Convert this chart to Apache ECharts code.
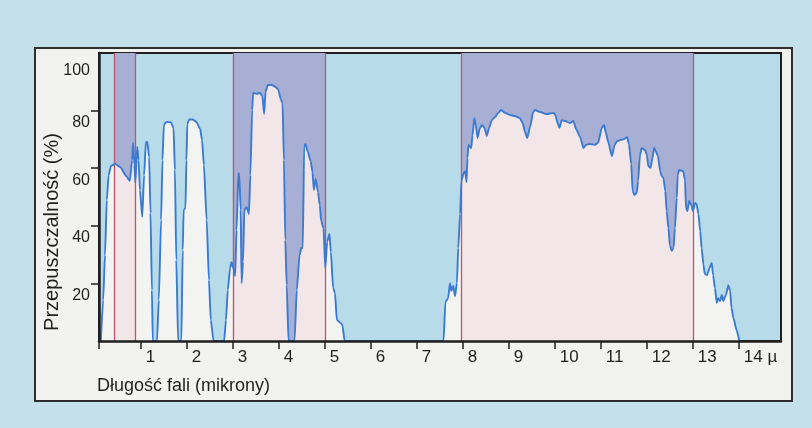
<!DOCTYPE html>
<html><head><meta charset="utf-8">
<script src="https://cdn.jsdelivr.net/npm/echarts@6/dist/echarts.min.js"></script>
<style>html,body{margin:0;padding:0;background:#c4e0ea;}#c{width:812px;height:428px;}</style>
</head><body><div id="c"></div>
<script>
// Transmission windows: [wavelength (µm), transmittance (%)]
const segA = [[0.13,0],[0.18,14.2],[0.22,29.9],[0.26,49],[0.30,57.6],[0.35,60.8],[0.44,61.5],[0.55,60.4],[0.68,57.3],[0.76,55.6],[0.81,62.8],[0.83,68.8],[0.86,61.1],[0.88,54.9],[0.92,67.4],[0.95,62.8],[0.98,52.4],[1.03,43.1],[1.07,57.6],[1.11,69.1],[1.14,69.1],[1.18,63.9],[1.21,44.4],[1.24,17.7],[1.26,0]];
const segB = [[1.35,0],[1.39,14.2],[1.44,42],[1.47,62.8],[1.50,75],[1.55,76],[1.65,76],[1.71,74],[1.74,59.4],[1.77,28.1],[1.81,0]];
const segC = [[1.88,0],[1.91,31.6],[1.93,45.5],[1.97,46.2],[1.99,62.8],[2.01,75.3],[2.05,76.9],[2.13,76.9],[2.21,76],[2.29,73.6],[2.33,69.8],[2.37,61.1],[2.43,42],[2.48,21.2],[2.52,7.3],[2.58,0]];
const segD = [[2.81,0],[2.85,7.3],[2.89,17.7],[2.94,25.3],[2.97,27.4],[3.01,25.3],[3.05,22.6],[3.08,38.5],[3.12,58.3],[3.14,57.6],[3.17,45.5],[3.19,20.1],[3.22,27.4],[3.25,45.5],[3.30,46.5],[3.35,44.1],[3.38,57.6],[3.42,80.2],[3.44,86.1],[3.51,85.8],[3.59,86.1],[3.64,85.1],[3.68,78.8],[3.71,86.5],[3.76,88.9],[3.85,88.9],[3.93,88.2],[3.99,87.2],[4.04,84],[4.08,82.6],[4.11,62.8],[4.14,35.1],[4.17,19.4],[4.21,0]];
const segE = [[4.34,0],[4.39,17.7],[4.45,29.9],[4.49,32.3],[4.52,32.3],[4.55,67.7],[4.58,68.4],[4.63,65.6],[4.69,62.5],[4.73,58.7],[4.76,52.4],[4.80,56.3],[4.85,51.7],[4.89,47.2],[4.92,41.7],[4.97,39.2],[5.01,25.3],[5.05,34.4],[5.10,37.2],[5.13,30.9],[5.18,18.4],[5.22,16.7],[5.26,7.3],[5.34,6.3],[5.38,5.6],[5.43,0]];
const segF = [[7.58,0],[7.62,13.5],[7.68,14.9],[7.72,20.1],[7.75,17.4],[7.79,19.1],[7.83,15.6],[7.87,20.1],[7.90,32.3],[7.94,44.1],[7.97,55.6],[8.01,58],[8.05,59],[8.08,55.2],[8.10,63.5],[8.12,68.1],[8.18,67],[8.21,71.5],[8.25,77.4],[8.28,75],[8.32,70.5],[8.37,74],[8.42,75],[8.47,74],[8.52,71.2],[8.57,74],[8.63,76.7],[8.70,77.8],[8.77,79.2],[8.83,80.2],[8.92,79.2],[9.02,78.5],[9.13,78.1],[9.24,77.4],[9.30,75.7],[9.35,72.6],[9.40,70.5],[9.46,74.3],[9.53,79.5],[9.57,80.2],[9.68,79.5],[9.82,78.8],[9.97,79.2],[10.01,78.5],[10.06,75.7],[10.10,74],[10.15,76.7],[10.22,76.4],[10.33,75.7],[10.40,76.4],[10.47,73.3],[10.55,70.8],[10.62,67],[10.68,68.1],[10.76,68.4],[10.87,68.1],[10.94,68.8],[11.02,74],[11.07,75],[11.11,72.2],[11.16,69.1],[11.24,64.2],[11.30,68.1],[11.35,69.4],[11.42,69.8],[11.50,70.1],[11.57,70.8],[11.61,68.4],[11.66,61.5],[11.69,52.1],[11.73,50.7],[11.78,51.4],[11.81,55.6],[11.85,64.6],[11.89,67],[11.96,66.3],[12.00,64.6],[12.03,60.8],[12.08,60.1],[12.12,63.5],[12.16,67],[12.19,66],[12.24,64.2],[12.29,59],[12.32,57.3],[12.36,56.6],[12.40,52.1],[12.43,45.1],[12.47,39.2],[12.50,33.3],[12.54,31.3],[12.58,32.3],[12.61,39.2],[12.65,49.7],[12.67,57.6],[12.70,59.4],[12.79,59],[12.83,55.9],[12.85,46.2],[12.88,45.1],[12.92,48.6],[12.97,47.2],[13.00,45.1],[13.05,47.9],[13.08,47.6],[13.12,44.1],[13.16,38.2],[13.19,32.3],[13.23,26.4],[13.26,23.3],[13.31,22.9],[13.36,25.3],[13.41,27.1],[13.44,22.9],[13.48,18.4],[13.52,13.2],[13.55,14.9],[13.59,13.9],[13.63,16],[13.66,13.9],[13.72,16],[13.77,19.4],[13.81,17.4],[13.84,11.5],[13.88,8],[13.95,3.8],[14.01,0]];

const bandStart = [0.43, 3.0, 7.96];
const bandEnd = [0.87, 5.0, 13.0];
const xTickValues = [1,2,3,4,5,6,7,8,9,10,11,12,13,14];
const yTickValues = [20,40,60,80];
const yLabelValues = [20,40,60,80,100];
const xTitle = 'Długość fali (mikrony)';
const yTitle = 'Przepuszczalność (%)';

const curve = [].concat(segA, segB, segC, segD, segE, segF);
const narrow = "'Liberation Sans Narrow', 'Liberation Sans', sans-serif";
const ink = '#1f1f1f';
const bandAreas = bandStart.map((s, i) => [{ xAxis: s }, { xAxis: bandEnd[i] }]);

const chart = echarts.init(document.getElementById('c'), null, { renderer: 'canvas' });
chart.setOption({
  animation: false,
  backgroundColor: '#c4e0ea',
  graphic: [
    { type: 'rect', z: -100, shape: { x: 35, y: 48, width: 757, height: 353 },
      style: { fill: '#f2f3f1', stroke: '#2e2e2e', lineWidth: 2 } },
    { type: 'text', z: 50, x: 97, y: 377,
      style: { text: xTitle, font: '18px "Liberation Sans"', fill: ink, align: 'left', verticalAlign: 'top', textAlign: 'left', textVerticalAlign: 'top' } },
    { type: 'text', z: 50, x: 52, y: 232, rotation: Math.PI / 2,
      style: { text: yTitle, font: '20px "Liberation Sans"', fill: ink, align: 'center', verticalAlign: 'middle', textAlign: 'center', textVerticalAlign: 'middle' } }
  ],
  grid: { left: 99, top: 53, width: 682, height: 288, show: true, backgroundColor: '#b7dbe9', borderColor: ink, borderWidth: 2, containLabel: false },
  xAxis: {
    type: 'value', min: 0.09, max: 14.916, z: 10,
    axisLine: { show: true, onZero: false, lineStyle: { color: ink, width: 2.5 } },
    axisTick: { show: true, customValues: [0.09].concat(xTickValues), length: 8, lineStyle: { color: ink, width: 1.5 } },
    axisLabel: { customValues: xTickValues, formatter: v => (v === 14 ? '14 µ' : String(v)), align: 'left', verticalAlign: 'top', padding: [0, 0, 0, 5], margin: 8, color: ink, fontFamily: narrow, fontSize: 17 },
    splitLine: { show: false }
  },
  yAxis: {
    type: 'value', min: 0, max: 100, z: 10,
    axisLine: { show: true, onZero: false, lineStyle: { color: ink, width: 2.5 } },
    axisTick: { show: true, customValues: yTickValues, length: 8, lineStyle: { color: ink, width: 1.5 } },
    axisLabel: {
      customValues: yLabelValues, margin: 9, align: 'right', verticalAlign: 'top', color: ink,
      fontFamily: narrow, fontSize: 16,
      formatter: v => (v === 100 ? '{t|100}' : '{n|' + v + '}'),
      rich: {
        n: { fontFamily: narrow, fontSize: 16, color: ink, padding: [4, 0, 0, 0] },
        t: { fontFamily: narrow, fontSize: 16, color: ink, padding: [10, 0, 0, 0] }
      }
    },
    splitLine: { show: false }
  },
  series: [
    { type: 'line', data: [], z: 1, silent: true,
      markArea: { z: 1, silent: true, itemStyle: { color: '#90abd7' }, data: bandAreas } },
    { type: 'line', data: curve, z: 2, silent: true, symbol: 'none', smooth: 0.2, smoothMonotone: 'x',
      lineStyle: { width: 0, opacity: 0 }, areaStyle: { color: '#f3f4f2', opacity: 1 } },
    { type: 'line', data: [], z: 3, silent: true,
      markArea: { z: 3, silent: true, itemStyle: { color: 'rgba(239,188,202,0.25)' }, data: bandAreas } },
    { type: 'line', data: [], z: 4, silent: true,
      markLine: { z: 4, silent: true, symbol: ['none', 'none'], label: { show: false },
        lineStyle: { color: '#c8506a', width: 1.3, type: 'solid' },
        data: bandStart.concat(bandEnd).map(v => ({ xAxis: v })) } },
    { type: 'line', data: curve, z: 5, silent: true, symbol: 'none', smooth: 0.2, smoothMonotone: 'x',
      lineStyle: { color: '#3a7ad0', width: 1.9 } }
  ]
});
</script></body></html>
